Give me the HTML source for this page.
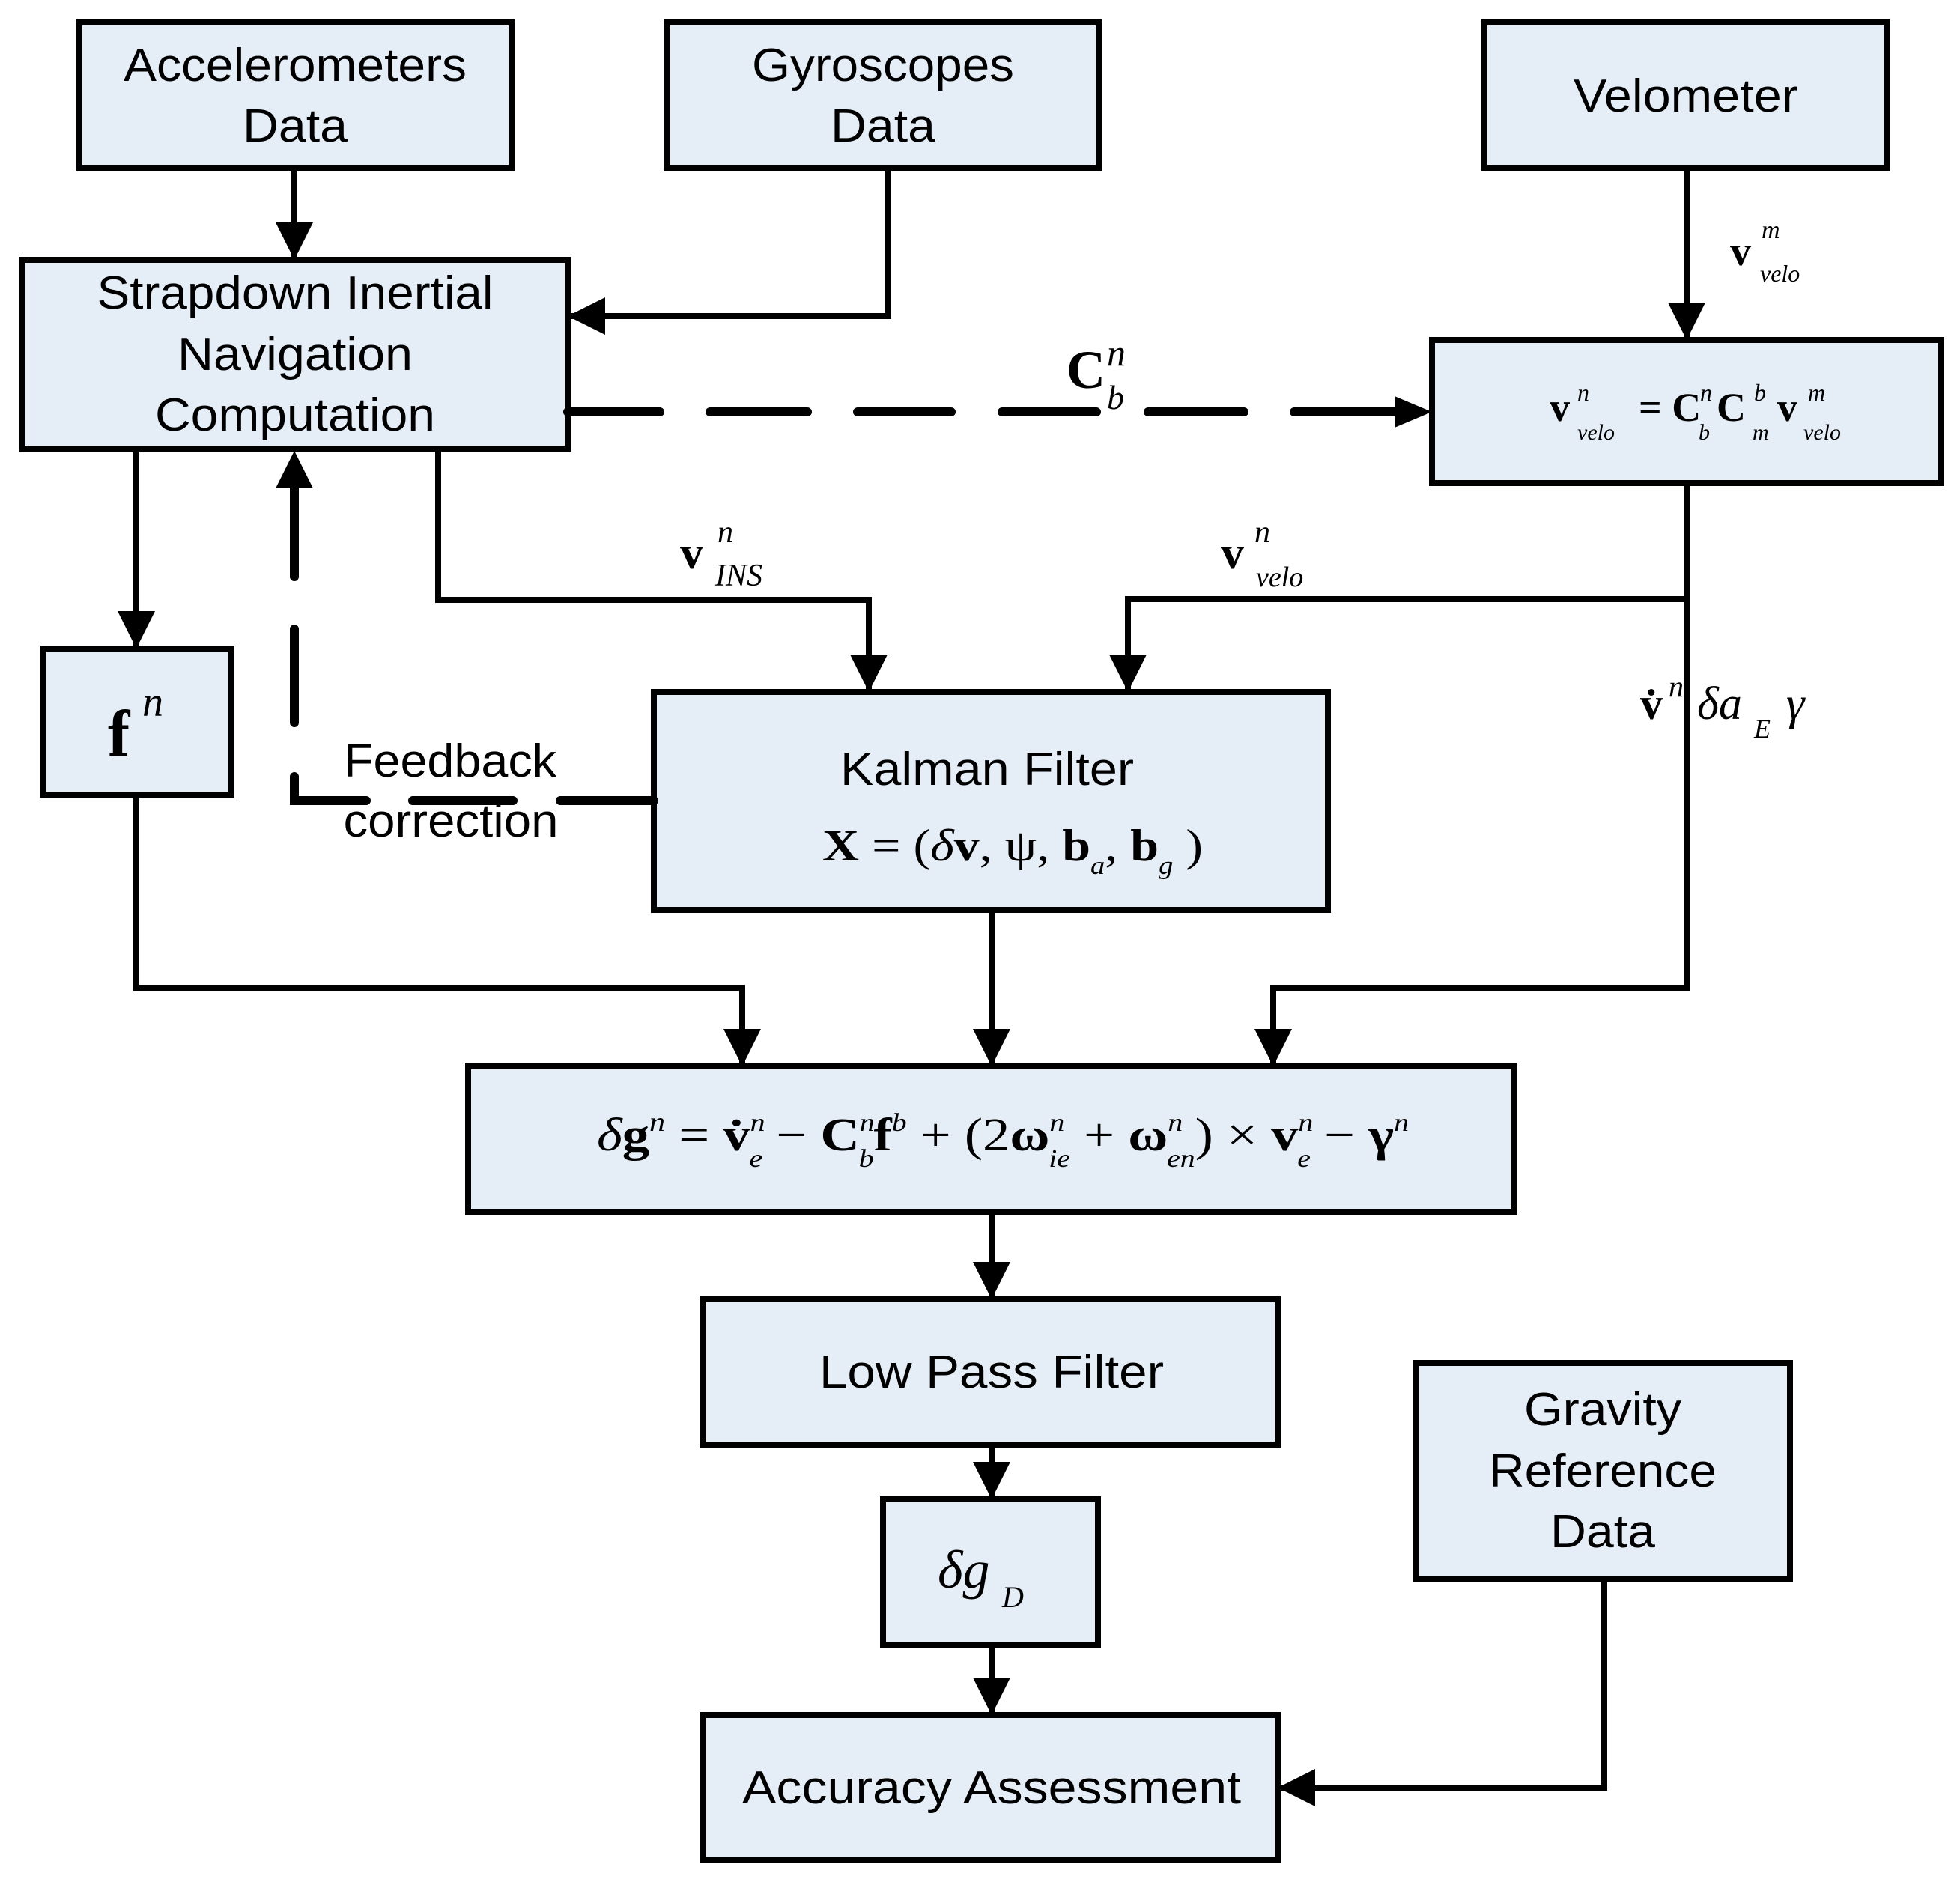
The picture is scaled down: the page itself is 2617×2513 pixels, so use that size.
<!DOCTYPE html>
<html><head><meta charset="utf-8"><style>
html,body{margin:0;padding:0;background:#fff}
svg{display:block}
.t{font-family:"Liberation Sans",sans-serif;font-size:62px;fill:#000}
.m{font-family:"Liberation Serif",serif;fill:#000}
.b{font-weight:bold}
.i{font-style:italic}
</style></head><body>
<svg width="2617" height="2513" viewBox="0 0 2617 2513" xmlns="http://www.w3.org/2000/svg">
<defs>
<marker id="a" markerUnits="userSpaceOnUse" markerWidth="52" markerHeight="52" refX="50" refY="25" orient="auto">
<path d="M0,0 L50,25 L0,50 Z" fill="#000"/></marker>
</defs>
<g fill="#E5EDF7" stroke="#000" stroke-width="8">
<rect x="106" y="30" width="577" height="194"/>
<rect x="891" y="30" width="576" height="194"/>
<rect x="1982" y="30" width="538" height="194"/>
<rect x="29" y="347" width="729" height="252"/>
<rect x="1912" y="454" width="680" height="191"/>
<rect x="58" y="866" width="251" height="195"/>
<rect x="873" y="924" width="900" height="291"/>
<rect x="625" y="1424" width="1396" height="195"/>
<rect x="939" y="1735" width="767" height="194"/>
<rect x="1179" y="2002" width="287" height="194"/>
<rect x="939" y="2290" width="767" height="194"/>
<rect x="1891" y="1820" width="499" height="288"/>
</g>
<g fill="none" stroke="#000" stroke-width="8">
<path d="M393,224 V347" marker-end="url(#a)"/>
<path d="M1186,224 V422 H758" marker-end="url(#a)"/>
<path d="M2252,224 V454" marker-end="url(#a)"/>
<path d="M182,599 V866" marker-end="url(#a)"/>
<path d="M585,599 V801 H1160 V924" marker-end="url(#a)"/>
<path d="M2252,645 V1319 H1700 V1424" marker-end="url(#a)"/>
<path d="M2252,800 H1506 V924" marker-end="url(#a)"/>
<path d="M182,1061 V1319 H991 V1424" marker-end="url(#a)"/>
<path d="M1324,1215 V1424" marker-end="url(#a)"/>
<path d="M1324,1619 V1735" marker-end="url(#a)"/>
<path d="M1324,1929 V2002" marker-end="url(#a)"/>
<path d="M1324,2196 V2290" marker-end="url(#a)"/>
<path d="M2142,2108 V2387 H1706" marker-end="url(#a)"/>
</g>
<g fill="none" stroke="#000" stroke-width="12" stroke-linecap="round">
<path d="M758,550 H881 M948,550 H1078 M1145,550 H1270 M1338,550 H1464 M1533,550 H1661 M1728,550 H1862"/>
<path d="M873,1069 H748 M685,1069 H551 M489,1069 H393 V1037 M393,965 V840 M393,770 V652"/>
</g>
<path d="M1862,529 L1912,550 L1862,571 Z" fill="#000"/>
<path d="M368,652 L393,602 L418,652 Z" fill="#000"/>
<g class="t" text-anchor="middle">
<text x="394" y="108" textLength="458" lengthAdjust="spacingAndGlyphs">Accelerometers</text>
<text x="394" y="189" textLength="140" lengthAdjust="spacingAndGlyphs">Data</text>
<text x="1179" y="108" textLength="350" lengthAdjust="spacingAndGlyphs">Gyroscopes</text>
<text x="1179" y="189" textLength="140" lengthAdjust="spacingAndGlyphs">Data</text>
<text x="2251" y="149" textLength="300" lengthAdjust="spacingAndGlyphs">Velometer</text>
<text x="394" y="412" textLength="529" lengthAdjust="spacingAndGlyphs">Strapdown Inertial</text>
<text x="394" y="494" textLength="314" lengthAdjust="spacingAndGlyphs">Navigation</text>
<text x="394" y="575" textLength="374" lengthAdjust="spacingAndGlyphs">Computation</text>
<text x="601" y="1037" textLength="284" lengthAdjust="spacingAndGlyphs">Feedback</text>
<text x="602" y="1117" textLength="287" lengthAdjust="spacingAndGlyphs">correction</text>
<text x="1318" y="1048" textLength="392" lengthAdjust="spacingAndGlyphs">Kalman Filter</text>
<text x="1324" y="1853" textLength="460" lengthAdjust="spacingAndGlyphs">Low Pass Filter</text>
<text x="2140" y="1903" textLength="210" lengthAdjust="spacingAndGlyphs">Gravity</text>
<text x="2140" y="1985" textLength="304" lengthAdjust="spacingAndGlyphs">Reference</text>
<text x="2140" y="2066" textLength="140" lengthAdjust="spacingAndGlyphs">Data</text>
<text x="1324" y="2408" textLength="666" lengthAdjust="spacingAndGlyphs">Accuracy Assessment</text>
</g>
<g class="m">
<text x="144" y="1009" font-size="88" class="b">f</text>
<text x="190" y="956" font-size="56" class="i">n</text>
<text x="1424" y="518" font-size="72" class="b">C</text>
<text x="1478" y="488" font-size="50" class="i">n</text>
<text x="1478" y="546" font-size="46" class="i">b</text>
<text x="2310" y="354" font-size="56" class="b">v</text>
<text x="2352" y="318" font-size="34" class="i">m</text>
<text x="2350" y="376" font-size="32" class="i">velo</text>
<text x="908" y="759" font-size="62" class="b">v</text>
<text x="958" y="724" font-size="42" class="i">n</text>
<text x="955" y="782" font-size="42" class="i">INS</text>
<text x="1630" y="759" font-size="62" class="b">v</text>
<text x="1675" y="724" font-size="42" class="i">n</text>
<text x="1677" y="783" font-size="38" class="i">velo</text>
<text x="2190" y="960" font-size="60" class="b">v̇</text>
<text x="2228" y="930" font-size="40" class="i">n</text>
<text x="2266" y="960" font-size="62" class="i">δa</text>
<text x="2342" y="985" font-size="36" class="i">E</text>
<text x="2385" y="960" font-size="62" class="i">γ</text>
<text x="2069" y="562" font-size="54" class="b">v</text>
<text x="2106" y="535" font-size="32" class="i">n</text>
<text x="2106" y="587" font-size="30" class="i">velo</text>
<text x="2188" y="562" font-size="54" class="b">= C</text>
<text x="2270" y="535" font-size="32" class="i">n</text>
<text x="2268" y="587" font-size="30" class="i">b</text>
<text x="2292" y="562" font-size="54" class="b">C</text>
<text x="2342" y="535" font-size="32" class="i">b</text>
<text x="2340" y="587" font-size="30" class="i">m</text>
<text x="2373" y="562" font-size="54" class="b">v</text>
<text x="2414" y="535" font-size="32" class="i">m</text>
<text x="2408" y="587" font-size="30" class="i">velo</text>
<text x="1098" y="1149" font-size="60" textLength="508" lengthAdjust="spacingAndGlyphs"><tspan class="b">X</tspan> = (<tspan class="i">δ</tspan><tspan class="b">v</tspan>, ψ, <tspan class="b">b</tspan><tspan class="i" font-size="34" dy="18">a</tspan><tspan dy="-18">, </tspan><tspan class="b">b</tspan><tspan class="i" font-size="34" dy="18">g</tspan><tspan dy="-18"> )</tspan></text>
<text x="797" y="1536" font-size="62" textLength="1084" lengthAdjust="spacingAndGlyphs"><tspan class="i">δ</tspan><tspan class="b">g</tspan><tspan class="i" font-size="36" dy="-26">n</tspan><tspan dy="26"> = </tspan><tspan class="b">v̇</tspan><tspan class="i" font-size="34" dy="-26">n</tspan><tspan class="i" font-size="34" dx="-18" dy="48">e</tspan><tspan dy="-22"> − </tspan><tspan class="b">C</tspan><tspan class="i" font-size="34" dy="-26">n</tspan><tspan class="i" font-size="34" dx="-18" dy="48">b</tspan><tspan class="b" dy="-22">f</tspan><tspan class="i" font-size="34" dy="-26">b</tspan><tspan dy="26"> + (2</tspan><tspan class="b">ω</tspan><tspan class="i" font-size="34" dy="-26">n</tspan><tspan class="i" font-size="34" dx="-18" dy="48">ie</tspan><tspan dy="-22"> + </tspan><tspan class="b">ω</tspan><tspan class="i" font-size="34" dy="-26">n</tspan><tspan class="i" font-size="34" dx="-18" dy="48">en</tspan><tspan dy="-22">) × </tspan><tspan class="b">v</tspan><tspan class="i" font-size="34" dy="-26">n</tspan><tspan class="i" font-size="34" dx="-18" dy="48">e</tspan><tspan dy="-22"> − </tspan><tspan class="b">γ</tspan><tspan class="i" font-size="34" dy="-26">n</tspan></text>
<text x="1252" y="2120" font-size="72" class="i">δg</text>
<text x="1338" y="2146" font-size="40" class="i">D</text>
</g>
</svg>
</body></html>
